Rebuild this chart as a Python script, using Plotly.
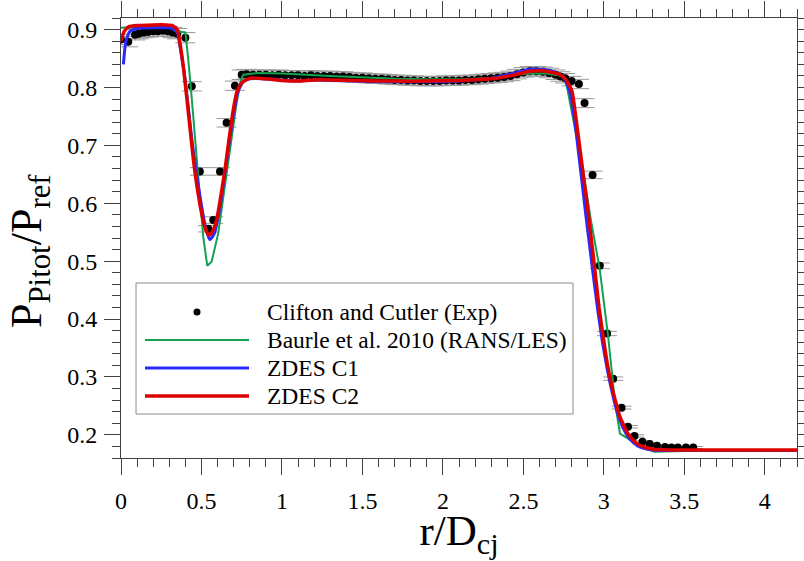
import plotly.graph_objects as go

# ---------------- data ----------------
# Clifton and Cutler experiment: r/Dcj and Pitot pressure ratio
exp_r = [0.00, 0.045, 0.087, 0.11, 0.14, 0.17, 0.20, 0.23, 0.26, 0.29, 0.32, 0.35, 0.40,
         0.44, 0.49, 0.542, 0.573, 0.615, 0.656, 0.708, 0.75,
         0.78, 0.82, 0.86, 0.90, 0.94, 0.98, 1.02, 1.06, 1.10, 1.14, 1.18, 1.22, 1.26,
         1.30, 1.34, 1.38, 1.42, 1.46, 1.50, 1.54, 1.58, 1.62, 1.66, 1.70, 1.74, 1.78,
         1.82, 1.86, 1.90, 1.94, 1.98, 2.02, 2.06, 2.10, 2.14, 2.18, 2.22, 2.26, 2.30,
         2.34, 2.38, 2.42, 2.46, 2.50, 2.54, 2.58, 2.62, 2.66, 2.70, 2.73, 2.76, 2.80,
         2.845, 2.88, 2.93, 2.975, 3.02, 3.058, 3.11, 3.15, 3.19, 3.24, 3.285, 3.33,
         3.38, 3.42, 3.46, 3.51, 3.555]
exp_p = [0.883, 0.879, 0.891, 0.893, 0.895, 0.896, 0.897, 0.897, 0.898, 0.897, 0.895, 0.893, 0.886,
         0.802, 0.655, 0.556, 0.571, 0.655, 0.739, 0.803, 0.822,
         0.823, 0.822, 0.822, 0.822, 0.821, 0.822, 0.821, 0.821, 0.821, 0.820, 0.821, 0.820, 0.820,
         0.820, 0.819, 0.819, 0.818, 0.817, 0.817, 0.816, 0.815, 0.815, 0.814, 0.813, 0.813, 0.812,
         0.812, 0.811, 0.811, 0.811, 0.811, 0.812, 0.812, 0.812, 0.813, 0.813, 0.814, 0.815, 0.816,
         0.817, 0.818, 0.820, 0.823, 0.826, 0.828, 0.828, 0.827, 0.825, 0.822, 0.819, 0.816, 0.811,
         0.806, 0.773, 0.649, 0.492, 0.375, 0.297, 0.247, 0.214, 0.198, 0.188, 0.184, 0.181,
         0.179, 0.178, 0.178, 0.178, 0.178]

# Baurle et al. 2010 (RANS/LES)
baurle_r = [0.0, 0.05, 0.15, 0.30, 0.34, 0.40, 0.41, 0.418, 0.44, 0.47, 0.49, 0.511, 0.536,
            0.563, 0.604, 0.635, 0.667, 0.69, 0.718, 0.743, 0.76, 0.85, 1.00, 1.30, 1.50,
            1.71, 1.90, 2.13, 2.30, 2.44, 2.55, 2.64, 2.72, 2.75, 2.77, 2.80, 2.83, 2.87,
            2.92, 2.975, 3.027, 3.07, 3.10, 3.20, 3.31, 3.50, 4.20]
baurle_p = [0.903, 0.904, 0.905, 0.904, 0.897, 0.895, 0.870, 0.848, 0.780, 0.675, 0.610, 0.542, 0.492,
            0.499, 0.548, 0.610, 0.675, 0.725, 0.773, 0.811, 0.822, 0.825, 0.824, 0.820, 0.817,
            0.815, 0.814, 0.814, 0.817, 0.822, 0.824, 0.824, 0.821, 0.818, 0.802, 0.760, 0.715, 0.658,
            0.570, 0.485, 0.369, 0.254, 0.202, 0.185, 0.171, 0.172, 0.172]

# ZDES C1
c1_r = [0.015, 0.025, 0.035, 0.056, 0.10, 0.20, 0.28, 0.32, 0.35, 0.37, 0.40, 0.44, 0.47,
        0.50, 0.53, 0.553, 0.58, 0.61, 0.64, 0.67, 0.70, 0.73, 0.76, 0.80, 0.90, 1.00,
        1.10, 1.20, 1.30, 1.45, 1.60, 1.80, 2.00, 2.15, 2.30, 2.40, 2.50, 2.56, 2.62,
        2.68, 2.73, 2.76, 2.79, 2.82, 2.85, 2.89, 2.93, 2.96, 2.99, 3.02, 3.05, 3.08,
        3.12, 3.16, 3.21, 3.27, 3.35, 3.60, 4.20]
c1_p = [0.840, 0.870, 0.884, 0.897, 0.902, 0.903, 0.903, 0.902, 0.895, 0.865, 0.810, 0.710, 0.650,
        0.596, 0.553, 0.537, 0.548, 0.585, 0.640, 0.700, 0.755, 0.795, 0.810, 0.815, 0.815, 0.813,
        0.811, 0.813, 0.812, 0.811, 0.810, 0.810, 0.810, 0.812, 0.816, 0.822, 0.829, 0.832, 0.831,
        0.828, 0.822, 0.812, 0.790, 0.740, 0.670, 0.575, 0.485, 0.420, 0.362, 0.315, 0.275, 0.242,
        0.212, 0.193, 0.181, 0.175, 0.173, 0.173, 0.173]

# ZDES C2
c2_r = [0.0, 0.02, 0.05, 0.10, 0.20, 0.28, 0.32, 0.35, 0.37, 0.39, 0.43, 0.45, 0.48, 0.51,
        0.53, 0.548, 0.57, 0.594, 0.62, 0.646, 0.67, 0.698, 0.72, 0.75, 0.80, 0.90, 1.00,
        1.09, 1.20, 1.30, 1.45, 1.60, 1.71, 1.90, 2.10, 2.25, 2.33, 2.45, 2.54, 2.60, 2.66,
        2.72, 2.76, 2.80, 2.83, 2.86, 2.90, 2.944, 2.97, 2.996, 3.02, 3.05, 3.075, 3.10,
        3.15, 3.20, 3.25, 3.31, 3.40, 3.60, 4.20]
c2_p = [0.880, 0.897, 0.905, 0.907, 0.908, 0.908, 0.907, 0.900, 0.870, 0.830, 0.727, 0.675, 0.615, 0.571,
        0.552, 0.545, 0.552, 0.571, 0.612, 0.658, 0.708, 0.762, 0.792, 0.808, 0.816, 0.815, 0.812,
        0.811, 0.813, 0.813, 0.812, 0.811, 0.811, 0.811, 0.812, 0.814, 0.816, 0.822, 0.828, 0.829, 0.827,
        0.823, 0.815, 0.795, 0.740, 0.675, 0.590, 0.485, 0.420, 0.369, 0.325, 0.283, 0.255, 0.231,
        0.202, 0.186, 0.179, 0.175, 0.174, 0.174, 0.174]

x_range = [0, 4.2]
y_range = [0.16, 0.92]

legend_names = ["Clifton and Cutler (Exp)", "Baurle et al. 2010 (RANS/LES)", "ZDES C1", "ZDES C2"]
x_title = "r/D<sub>cj</sub>"
y_title = "P<sub>Pitot</sub>/P<sub>ref</sub>"

# ---------------- style ----------------
W, H = 804, 561
M_L, M_R, M_T, M_B = 121, 7, 18, 103
FONT = "Liberation Serif"
GREEN, BLUE, RED = "#12a150", "#2a2aff", "#dd0000"
AXIS_COL = "#404040"

fig = go.Figure()

fig.add_trace(go.Scatter(
    x=exp_r, y=exp_p, mode="markers", name=legend_names[0],
    marker=dict(color="black", size=8),
    error_y=dict(type="percent", value=1, color="#9a9a9a", thickness=1, width=10),
    showlegend=False,
))
fig.add_trace(go.Scatter(x=baurle_r, y=baurle_p, mode="lines", name=legend_names[1],
                         line=dict(color=GREEN, width=2), showlegend=False))
fig.add_trace(go.Scatter(x=c1_r, y=c1_p, mode="lines", name=legend_names[2],
                         line=dict(color=BLUE, width=3, shape="spline", smoothing=0.5),
                         showlegend=False))
fig.add_trace(go.Scatter(x=c2_r, y=c2_p, mode="lines", name=legend_names[3],
                         line=dict(color=RED, width=3.5, shape="spline", smoothing=0.5),
                         showlegend=False))

# ---------------- boxed legend drawn in paper space ----------------
plot_w = W - M_L - M_R
plot_h = H - M_T - M_B


def px_x(px):
    return (px - M_L) / plot_w


def px_y(py):
    return (H - M_B - py) / plot_h


shapes = [dict(type="rect", xref="paper", yref="paper",
               x0=px_x(136), x1=px_x(573), y0=px_y(414), y1=px_y(283),
               line=dict(color="#8c8c8c", width=1), fillcolor="white", layer="above")]
annotations = []
rows_y = [312, 340, 368, 396]
styles = [None, (GREEN, 2), (BLUE, 3), (RED, 3.5)]
for name, ry, st in zip(legend_names, rows_y, styles):
    if st is None:
        shapes.append(dict(type="circle", xref="paper", yref="paper",
                           x0=px_x(193.5), x1=px_x(200.5), y0=px_y(ry + 3.5), y1=px_y(ry - 3.5),
                           fillcolor="black", line=dict(color="black", width=0), layer="above"))
    else:
        shapes.append(dict(type="line", xref="paper", yref="paper",
                           x0=px_x(145), x1=px_x(249), y0=px_y(ry), y1=px_y(ry),
                           line=dict(color=st[0], width=st[1]), layer="above"))
    annotations.append(dict(text=name, xref="paper", yref="paper", x=px_x(265), y=px_y(ry),
                            xanchor="left", yanchor="middle", showarrow=False,
                            font=dict(family=FONT, size=23.5, color="black")))

# rotated y-axis title
annotations.append(dict(text=y_title, xref="paper", yref="paper",
                        x=px_x(29), y=px_y(251), xanchor="center", yanchor="middle",
                        textangle=-90, showarrow=False,
                        font=dict(family=FONT, size=44, color="black")))

axis_common = dict(
    showgrid=False, zeroline=False, showline=True, linecolor=AXIS_COL, linewidth=1,
    ticks="outside", tickcolor=AXIS_COL, tickwidth=1, ticklen=16, mirror="ticks",
    tickfont=dict(family=FONT, size=24, color="black"),
)

fig.update_layout(
    width=W, height=H,
    margin=dict(l=M_L, r=M_R, t=M_T, b=M_B, autoexpand=False),
    paper_bgcolor="white", plot_bgcolor="white",
    showlegend=False,
    shapes=shapes, annotations=annotations,
    xaxis=dict(
        range=x_range, dtick=0.5, tick0=0,
        minor=dict(dtick=0.1, ticks="outside", ticklen=8, tickcolor=AXIS_COL),
        title=dict(text=x_title, font=dict(family=FONT, size=43, color="black"),
                   standoff=7),
        ticklabelstandoff=5,
        **axis_common,
    ),
    yaxis=dict(
        range=y_range, dtick=0.1, tick0=0, tickformat=".1f",
        minor=dict(dtick=0.02, ticks="outside", ticklen=8, tickcolor=AXIS_COL),
        ticklabelstandoff=2,
        **axis_common,
    ),
)

fig.write_html("out.html")
